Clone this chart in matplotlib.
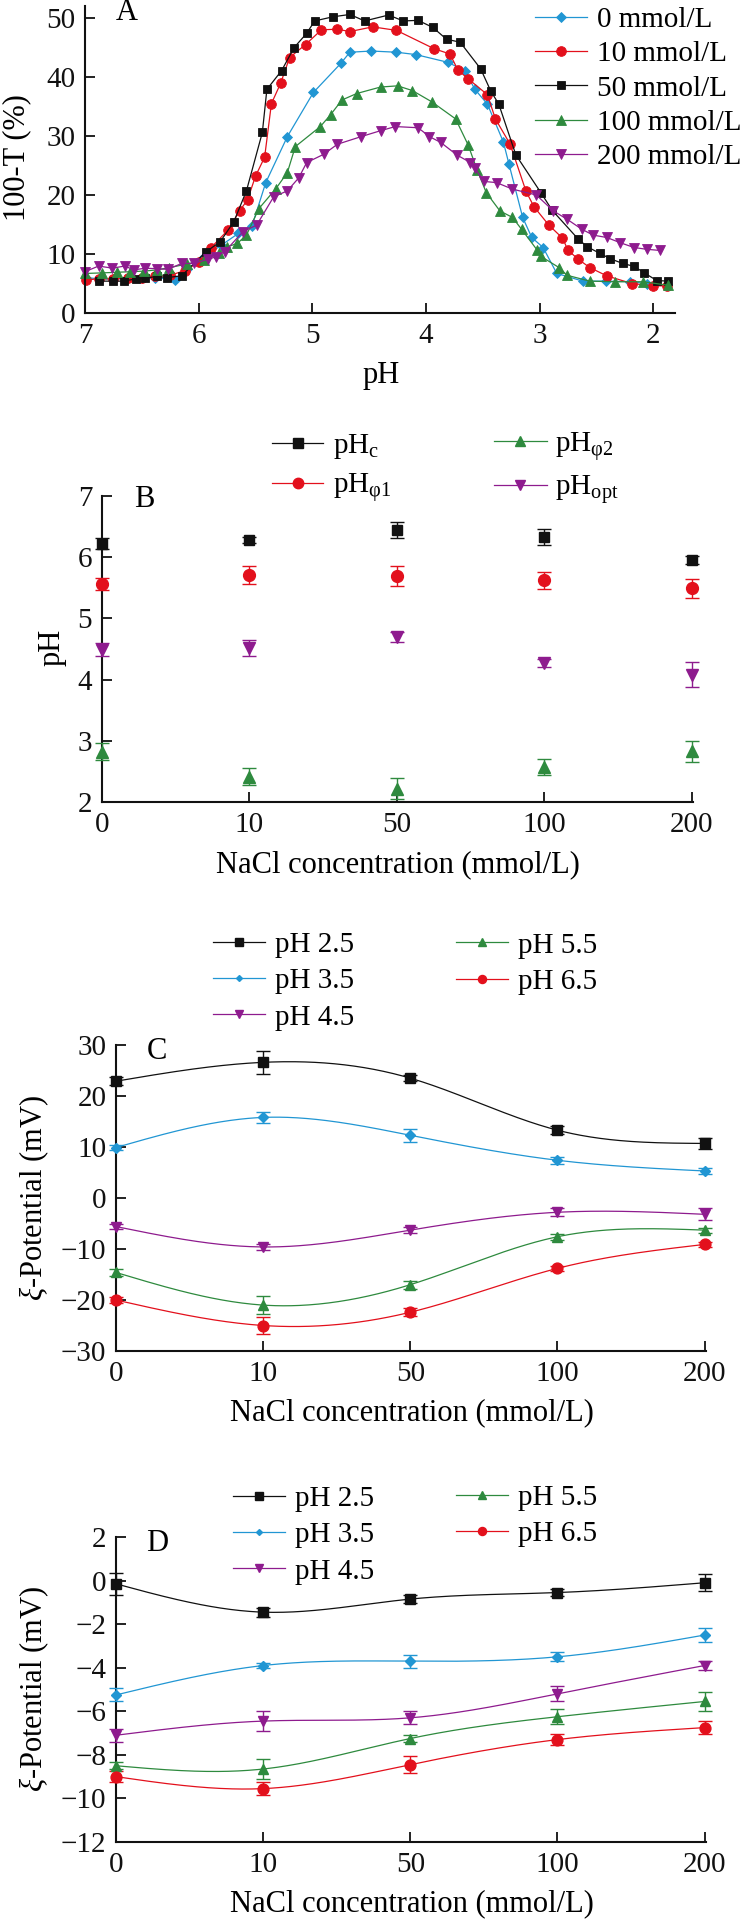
import numpy as np
import matplotlib
matplotlib.use('Agg')
import matplotlib.pyplot as plt
from matplotlib.lines import Line2D

plt.rcParams['font.family'] = ['Liberation Serif', 'DejaVu Serif']
plt.rcParams['mathtext.fontset'] = 'custom'
plt.rcParams['mathtext.rm'] = 'Liberation Serif'
plt.rcParams['mathtext.it'] = 'Liberation Serif:italic'
plt.rcParams['mathtext.bf'] = 'Liberation Serif:bold'

FS = 21      # tick and legend text
LFS = 22     # axis labels

# ---------------- Panel A data ----------------
a_labels = ['0 mmol/L', '10 mmol/L', '50 mmol/L', '100 mmol/L', '200 mmol/L']
ph_0 = [6.99, 6.88, 6.75, 6.62, 6.50, 6.38, 6.21, 6.10, 5.95, 5.80, 5.65, 5.53, 5.41, 5.22, 4.99, 4.75,
        4.67, 4.48, 4.26, 4.09, 3.81, 3.66, 3.57, 3.46, 3.32, 3.27, 3.15, 3.07, 2.97, 2.85, 2.62, 2.42,
        2.21, 2.06, 1.88]
t_0 = [6.0, 5.8, 5.7, 5.9, 5.9, 6.0, 5.6, 7.5, 9.5, 11.5, 13.5, 14.8, 22.1, 29.9, 37.4, 42.3,
       44.2, 44.4, 44.2, 43.8, 42.5, 41.1, 37.9, 35.4, 29.0, 25.2, 16.2, 12.8, 11.1, 6.7, 5.4, 5.4,
       5.3, 5.0, 4.7]
ph_10 = [6.99, 6.88, 6.75, 6.62, 6.50, 6.38, 6.25, 6.12, 6.00, 5.89, 5.74, 5.64, 5.57, 5.50, 5.42, 5.36,
         5.28, 5.20, 5.06, 4.92, 4.78, 4.67, 4.47, 4.26, 3.93, 3.79, 3.72, 3.63, 3.46, 3.39, 3.26, 3.12,
         3.05, 2.92, 2.80, 2.75, 2.66, 2.56, 2.41, 2.19, 2.00, 1.88]
t_10 = [5.6, 5.8, 5.8, 5.9, 6.0, 6.2, 6.4, 7.2, 8.6, 11.1, 14.1, 17.3, 19.2, 23.2, 26.4, 35.5,
        38.9, 43.3, 45.5, 48.0, 48.1, 47.7, 48.5, 47.9, 44.8, 43.9, 41.2, 39.7, 37.0, 32.9, 28.6, 20.6,
        18.0, 14.9, 12.7, 10.6, 9.1, 7.7, 6.3, 5.0, 4.6, 4.6]
ph_50 = [6.88, 6.75, 6.66, 6.55, 6.47, 6.37, 6.28, 6.15, 5.94, 5.81, 5.69, 5.58, 5.44, 5.40, 5.27, 5.16,
         5.05, 4.98, 4.82, 4.67, 4.54, 4.33, 4.20, 4.07, 3.94, 3.82, 3.70, 3.52, 3.43, 3.36, 3.21, 2.99,
         2.89, 2.66, 2.58, 2.47, 2.38, 2.27, 2.17, 2.08, 1.97, 1.87]
t_50 = [5.4, 5.4, 5.4, 5.8, 5.9, 6.2, 6.0, 6.3, 10.3, 12.1, 15.5, 20.7, 30.6, 37.9, 41.1, 45.0,
        47.4, 49.5, 50.2, 50.6, 49.5, 50.5, 49.5, 49.6, 48.4, 46.4, 45.9, 41.4, 37.6, 35.4, 26.8, 20.4,
        17.4, 12.5, 11.2, 10.1, 9.2, 8.4, 7.9, 6.8, 5.5, 5.4]
ph_100 = [7.00, 6.85, 6.72, 6.60, 6.48, 6.37, 6.26, 6.10, 5.95, 5.82, 5.75, 5.66, 5.58, 5.47, 5.32, 5.22,
          5.15, 4.93, 4.84, 4.74, 4.61, 4.40, 4.25, 4.12, 3.95, 3.74, 3.63, 3.55, 3.47, 3.35, 3.24, 3.16,
          3.02, 2.99, 2.83, 2.76, 2.56, 2.34, 2.09, 1.87]
t_100 = [6.7, 6.8, 6.9, 7.0, 7.1, 7.3, 7.7, 8.3, 9.0, 10.2, 11.2, 11.8, 13.2, 17.7, 21.1, 23.8,
         28.2, 31.6, 33.6, 36.1, 37.2, 38.3, 38.5, 37.7, 35.8, 32.9, 28.5, 24.2, 20.4, 17.3, 16.2, 14.2,
         10.6, 9.6, 7.7, 6.4, 5.4, 5.3, 5.3, 4.7]
ph_200 = [7.00, 6.88, 6.76, 6.65, 6.57, 6.47, 6.37, 6.27, 6.15, 6.04, 5.92, 5.85, 5.77, 5.61, 5.49, 5.34,
          5.22, 5.12, 5.05, 4.90, 4.78, 4.57, 4.40, 4.27, 4.07, 3.97, 3.87, 3.73, 3.61, 3.57, 3.49, 3.38,
          3.24, 3.03, 2.88, 2.76, 2.63, 2.53, 2.41, 2.29, 2.17, 2.06, 1.94]
t_200 = [7.0, 7.96, 7.6, 7.96, 7.3, 7.6, 7.5, 7.4, 8.4, 8.4, 9.1, 9.5, 10.4, 13.8, 14.9, 19.7,
         20.7, 22.9, 25.5, 26.9, 28.6, 29.9, 30.9, 31.6, 31.4, 29.9, 28.9, 26.8, 25.5, 24.5, 22.3, 22.1,
         21.0, 20.0, 17.3, 15.9, 14.2, 13.2, 12.8, 11.9, 11.1, 10.8, 10.6]

# ---------------- Panel B data ----------------
nacl_cats = ['0', '10', '50', '100', '200']
b_labels = [r'pH$_{\mathrm{c}}$', r'pH$_{\mathrm{φ1}}$', r'pH$_{\mathrm{φ2}}$', r'pH$_{\mathrm{opt}}$']
ph_c = [6.22, 6.28, 6.44, 6.33, 5.96]
ph_c_err = [0.09, 0.05, 0.13, 0.13, 0.065]
ph_phi1 = [5.56, 5.71, 5.69, 5.62, 5.49]
ph_phi1_err = [0.10, 0.14, 0.16, 0.14, 0.16]
ph_phi2 = [2.82, 2.41, 2.22, 2.57, 2.83]
ph_phi2_err = [0.14, 0.14, 0.17, 0.13, 0.17]
ph_opt = [4.49, 4.52, 4.70, 4.27, 4.08]
ph_opt_err = [0.10, 0.13, 0.08, 0.07, 0.20]

# ---------------- Panel C data ----------------
z_labels = ['pH 2.5', 'pH 3.5', 'pH 4.5', 'pH 5.5', 'pH 6.5']
c_25 = [22.9, 26.6, 23.5, 13.3, 10.7]
c_25_err = [0.8, 2.2, 0.6, 0.8, 1.0]
c_35 = [9.9, 15.8, 12.3, 7.4, 5.3]
c_35_err = [0.4, 1.0, 1.3, 0.7, 0.5]
c_45 = [-5.6, -9.6, -6.3, -2.8, -3.2]
c_45_err = [0.5, 0.6, 0.6, 0.8, 1.2]
c_55 = [-14.6, -21.0, -17.0, -7.6, -6.3]
c_55_err = [0.6, 1.8, 0.8, 0.6, 0.5]
c_65 = [-20.0, -25.0, -22.4, -13.8, -9.1]
c_65_err = [0.5, 1.7, 0.8, 0.5, 0.5]

# ---------------- Panel D data ----------------
d_25 = [-0.15, -1.45, -0.85, -0.55, -0.10]
d_25_err = [0.5, 0.2, 0.2, 0.15, 0.4]
d_35 = [-5.25, -3.9, -3.7, -3.5, -2.5]
d_35_err = [0.3, 0.1, 0.3, 0.2, 0.3]
d_45 = [-7.1, -6.45, -6.3, -5.2, -3.9]
d_45_err = [0.3, 0.47, 0.3, 0.35, 0.2]
d_55 = [-8.5, -8.65, -7.25, -6.25, -5.55]
d_55_err = [0.15, 0.45, 0.15, 0.35, 0.45]
d_65 = [-9.0, -9.55, -8.45, -7.3, -6.75]
d_65_err = [0.25, 0.3, 0.4, 0.25, 0.3]

# ---------------- styles ----------------
BLUE = '#2196d3'
RED = '#e3101c'
BLACK = '#111111'
GREEN = '#2e8a3e'
PURPLE = '#8e1b8e'

W, H = 752, 1920


def natural_spline(x, y, n=300):
    x = np.asarray(x, float)
    y = np.asarray(y, float)
    m = len(x)
    h = np.diff(x)
    A = np.zeros((m, m))
    r = np.zeros(m)
    A[0, 0] = 1
    A[-1, -1] = 1
    for i in range(1, m - 1):
        A[i, i - 1] = h[i - 1]
        A[i, i] = 2 * (h[i - 1] + h[i])
        A[i, i + 1] = h[i]
        r[i] = 6 * ((y[i + 1] - y[i]) / h[i] - (y[i] - y[i - 1]) / h[i - 1])
    M = np.linalg.solve(A, r)
    xs = np.linspace(x[0], x[-1], n)
    idx = np.clip(np.searchsorted(x, xs) - 1, 0, m - 2)
    x0, x1 = x[idx], x[idx + 1]
    hh = x1 - x0
    t0 = x1 - xs
    t1 = xs - x0
    ys = (M[idx] * t0 ** 3 / (6 * hh) + M[idx + 1] * t1 ** 3 / (6 * hh)
          + (y[idx] / hh - M[idx] * hh / 6) * t0 + (y[idx + 1] / hh - M[idx + 1] * hh / 6) * t1)
    return xs, ys


def make_axes(left, right, top, bottom):
    return fig.add_axes([left / W, 1 - bottom / H, (right - left) / W, (bottom - top) / H])


def style_axes(ax):
    for s in ['top', 'right']:
        ax.spines[s].set_visible(False)
    for s in ['left', 'bottom']:
        ax.spines[s].set_linewidth(1.5)
        ax.spines[s].set_color('#111111')
    ax.tick_params(direction='in', length=7, width=1.3, labelsize=FS, colors='#111111')
    ax.tick_params(axis='x', pad=7)
    ax.tick_params(axis='y', pad=7)


def col_legend(handles, labels, x_left, y_center, spacing=0.27, tpad=0.34, hlen=1.78):
    fig.legend(handles, labels, loc='center left',
               bbox_to_anchor=(x_left / W, 1 - y_center / H),
               bbox_transform=fig.transFigure, frameon=False, fontsize=FS,
               borderpad=0, borderaxespad=0, handlelength=hlen, handletextpad=tpad,
               labelspacing=spacing)


fig = plt.figure(figsize=(W / 100, H / 100), dpi=100)

# ================= Panel A =================
axA = make_axes(85, 675, 6.2, 313)
style_axes(axA)
a_series = [(ph_0, t_0, BLUE, 'D', 4.8), (ph_10, t_10, RED, 'o', 7.0), (ph_50, t_50, BLACK, 's', 6.0),
            (ph_100, t_100, GREEN, '^', 6.8), (ph_200, t_200, PURPLE, 'v', 6.8)]
a_handles = []
for (px, py, c, mk, ms), lab in zip(a_series, a_labels):
    ln, = axA.plot(px, py, color=c, marker=mk, markersize=ms, lw=0.9, markeredgewidth=0.6,
                   markeredgecolor=c, label=lab, clip_on=False)
    a_handles.append(ln)
axA.set_xlim(7, 1.81)
axA.set_ylim(0, 52)
axA.set_xticks([7, 6, 5, 4, 3, 2])
axA.set_yticks([0, 10, 20, 30, 40, 50])
axA.set_xlabel('pH', fontsize=LFS)
axA.xaxis.set_label_coords(0.502, -0.205)
axA.xaxis.label.set_va('center')
axA.set_ylabel('100-T (%)', fontsize=LFS, va='center')
axA.yaxis.set_label_coords(-0.116, 0.508)
axA.text(0.071, 0.978, 'A', transform=axA.transAxes, fontsize=LFS, ha='center', va='center')
col_legend(a_handles, a_labels, 535, 88.5)

# ================= Panel B =================
axB = make_axes(102, 693, 496, 802)
style_axes(axB)
xi = np.arange(len(nacl_cats))
b_series = [(ph_c, ph_c_err, BLACK, 's', 7.5), (ph_phi1, ph_phi1_err, RED, 'o', 8.5),
            (ph_phi2, ph_phi2_err, GREEN, '^', 8.0), (ph_opt, ph_opt_err, PURPLE, 'v', 8.0)]
b_handles = []
for (vals, errs, c, mk, ms) in b_series:
    axB.errorbar(xi, vals, yerr=errs, fmt=mk, color=c, markersize=ms, capsize=5, elinewidth=1.0,
                 capthick=1.0, clip_on=False, zorder=3)
    b_handles.append(Line2D([0], [0], color=c, marker=mk, markersize=ms - 1.0, lw=0.9))
axB.set_xlim(0, 4.01)
axB.set_ylim(2, 7)
axB.set_xticks(xi)
axB.set_xticklabels(nacl_cats)
axB.set_yticks([2, 3, 4, 5, 6, 7])
axB.set_xlabel('NaCl concentration (mmol/L)', fontsize=LFS)
axB.xaxis.set_label_coords(0.50, -0.206)
axB.xaxis.label.set_va('center')
axB.set_ylabel('pH', fontsize=LFS, va='center')
axB.yaxis.set_label_coords(-0.085, 0.506)
axB.text(0.071, 0.987, 'B', transform=axB.transAxes, fontsize=LFS, ha='center', va='center')
col_legend(b_handles[:2], b_labels[:2], 272, 468, spacing=0.35, tpad=0.33, hlen=1.75)
col_legend(b_handles[2:], b_labels[2:], 494, 468, spacing=0.35, tpad=0.3, hlen=1.8)


# ================= Panels C and D =================
def zeta_panel(top, bottom, series, ylim, yticks, letter, leg_y1, leg_y2, leg_x1):
    ax = make_axes(116, 706, top, bottom)
    style_axes(ax)
    handles = []
    for (vals, errs, c, mk, ms) in series:
        xs, ys = natural_spline(xi, vals)
        ax.plot(xs, ys, color=c, lw=0.9, zorder=2)
        ax.errorbar(xi, vals, yerr=errs, fmt=mk, color=c, markersize=ms, capsize=5, elinewidth=1.0,
                    capthick=1.0, clip_on=False, zorder=3)
        handles.append(Line2D([0], [0], color=c, marker=mk, markersize=ms - 2.0, lw=0.9))
    ax.set_xlim(0, 4.01)
    ax.set_ylim(*ylim)
    ax.set_xticks(xi)
    ax.set_xticklabels(nacl_cats)
    ax.set_yticks(yticks)
    ax.set_yticklabels([str(v).replace('-', '\u2212') for v in yticks])
    ax.set_xlabel('NaCl concentration (mmol/L)', fontsize=LFS)
    ax.xaxis.set_label_coords(0.502, -0.202)
    ax.xaxis.label.set_va('center')
    ax.set_ylabel(r'$\mathit{ξ}$-Potential (mV)', fontsize=LFS, va='center')
    ax.yaxis.set_label_coords(-0.139, 0.5)
    ax.text(0.07, 0.98, letter, transform=ax.transAxes, fontsize=LFS, ha='center', va='center')
    col_legend(handles[:3], z_labels[:3], leg_x1, leg_y1, spacing=0.34, tpad=0.36)
    col_legend(handles[3:], z_labels[3:], 456, leg_y2, spacing=0.34, tpad=0.34)
    return ax


c_series = [(c_25, c_25_err, BLACK, 's', 7.5), (c_35, c_35_err, BLUE, 'D', 5.0), (c_45, c_45_err, PURPLE, 'v', 7.5),
            (c_55, c_55_err, GREEN, '^', 7.5), (c_65, c_65_err, RED, 'o', 7.8)]
zeta_panel(1045, 1351, c_series, (-30, 30), [-30, -20, -10, 0, 10, 20, 30], 'C', 981, 963.5, 213)

d_series = [(d_25, d_25_err, BLACK, 's', 7.5), (d_35, d_35_err, BLUE, 'D', 5.0), (d_45, d_45_err, PURPLE, 'v', 7.5),
            (d_55, d_55_err, GREEN, '^', 7.5), (d_65, d_65_err, RED, 'o', 7.8)]
zeta_panel(1537, 1842, d_series, (-12, 2), [-12, -10, -8, -6, -4, -2, 0, 2], 'D', 1535, 1516, 233)

fig.savefig('out.png', dpi=100)
